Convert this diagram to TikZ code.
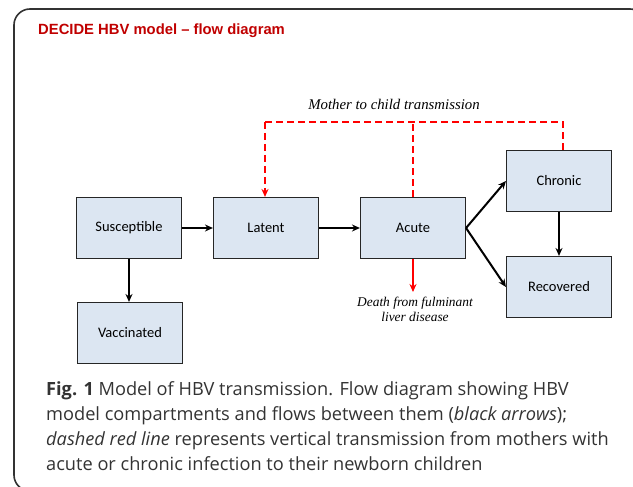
\documentclass[tikz,border=0pt]{standalone}
\usepackage{fontspec}
\setmainfont{Liberation Serif}
\newfontfamily\boxfont{Carlito}
\newfontfamily\titlefont{Liberation Sans}
\newfontfamily\capfont{Open Sans}
\usetikzlibrary{arrows.meta}
\definecolor{boxfill}{RGB}{220,230,242}
\definecolor{titlered}{RGB}{192,0,0}
\definecolor{framegray}{RGB}{50,50,50}
\tikzset{
  comp/.style={draw=black!85, line width=1.1pt, fill=boxfill, minimum width=105pt, minimum height=61pt, inner sep=0pt, font=\boxfont\fontsize{14.5}{17}\selectfont},
  blkarrow/.style={draw=black, line width=2pt, -{Stealth[length=8pt,width=7pt]}},
  mtcdash/.style={draw=red, line width=2pt, dash pattern=on 7pt off 4pt},
  redarrow/.style={draw=red, line width=2pt, -{Stealth[length=8pt,width=7pt]}},
  notetext/.style={font=\itshape, align=center, inner sep=0pt},
  capline/.style={anchor=base west, inner sep=0pt, font=\capfont\fontsize{18.2}{22}\selectfont, text=black!80},
}
\begin{document}
\begin{tikzpicture}[x=1pt,y=-1pt]
\useasboundingbox (0,0) rectangle (633,487);
% frame
\draw[framegray, line width=1.6pt, rounded corners=16pt] (646,491) -- (14,491) -- (14,9) -- (646,9) -- cycle;
% title
\node[anchor=base west, inner sep=0pt, text=titlered, font=\titlefont\bfseries\fontsize{14.8}{17}\selectfont] (title) at (38,35) {DECIDE HBV model – flow diagram};
% compartments
\node[comp] (sus) at (129,228) {Susceptible};
\node[comp] (lat) at (266,228) {Latent};
\node[comp] (acu) at (413,228) {Acute};
\node[comp] (chr) at (559,181) {Chronic};
\node[comp] (rec) at (559,287) {Recovered};
\node[comp] (vac) at (130,333) {Vaccinated};
% flows
\draw[blkarrow] (sus.east) -- (lat.west);
\draw[blkarrow] (lat.east) -- (acu.west);
\draw[blkarrow] (acu.east) -- (chr.west);
\draw[blkarrow] (acu.east) -- (rec.west);
\draw[blkarrow] (chr.south) -- (chr.south |- rec.north);
\draw[blkarrow] (sus.south) -- (sus.south |- vac.north);
% mother to child
\coordinate (topline) at (0,122);
\coordinate (death) at (0,292);
\draw[mtcdash] ([xshift=4pt]chr.north) |- ([xshift=-1pt]lat.north |- topline);
\draw[mtcdash, -{Stealth[length=8pt,width=7pt]}] ([xshift=-1pt]lat.north |- topline) -- ([xshift=-1pt]lat.north);
\draw[mtcdash] (acu.north) -- (acu.north |- topline);
\node[notetext, font=\itshape\fontsize{14.8}{17}\selectfont] (mtc) at (394,104) {Mother to child transmission};
% death
\draw[redarrow] (acu.south) -- (acu.south |- death);
\node[notetext, font=\itshape\fontsize{13.4}{16}\selectfont, anchor=north] (dth) at (415,297) {Death from fulminant\\[-1pt]liver disease};
% caption
\node[capline] (c1) at (46,395) {\textbf{Fig. 1} Model of HBV transmission. Flow diagram showing HBV};
\node[capline] (c2) at (46,420) {model compartments and flows between them (\textit{black arrows});};
\node[capline] (c3) at (46,445) {\textit{dashed red line} represents vertical transmission from mothers with};
\node[capline] (c4) at (46,470) {acute or chronic infection to their newborn children};
\end{tikzpicture}
\end{document}
